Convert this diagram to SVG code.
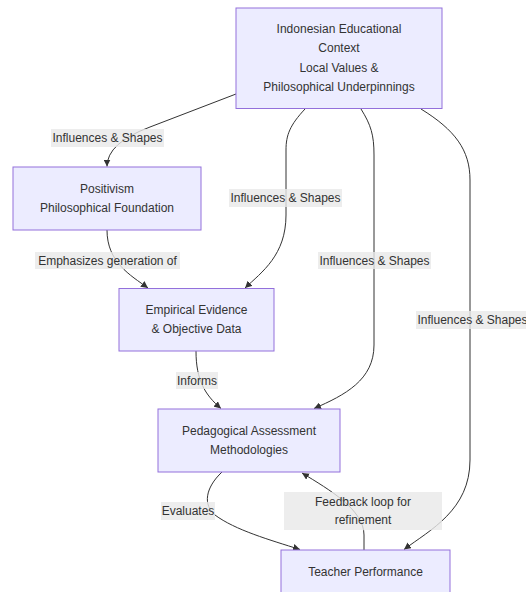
<svg xmlns="http://www.w3.org/2000/svg" width="526" height="592" viewBox="0 0 526 592">
<defs>
<style>
.node rect{fill:#ECECFF;stroke:#9370DB;stroke-width:1}
.node text,.lbl text{font-family:"Liberation Sans",Arial,sans-serif;font-size:12px;fill:#333;text-anchor:middle;dominant-baseline:central}
.edge{fill:none;stroke:#333;stroke-width:1}
.lbl rect{fill:rgba(232,232,232,0.8)}
</style>
<marker id="arr" viewBox="0 0 10 10" refX="10" refY="5" markerWidth="7" markerHeight="7" markerUnits="userSpaceOnUse" orient="auto">
<path d="M0,0 L10,5 L0,10 z" fill="#333"/>
</marker>
</defs>
<g id="connectors">
<path class="edge" marker-end="url(#arr)" d="M236,94 L150,127 Q107,143 107,166.5"/>
<path class="edge" marker-end="url(#arr)" d="M305,109 C290,125 286,135 286,150 L286,215 C286,255 262,272 245,288"/>
<path class="edge" marker-end="url(#arr)" d="M361,109 C371,125 374,135 374,155 L374,345 C374,380 345,395 314,408.5"/>
<path class="edge" marker-end="url(#arr)" d="M421,109 C455,130 470,150 470,180 L470,460 C470,510 430,530 404,549.5"/>
<path class="edge" marker-end="url(#arr)" d="M107,230 C107,262 130,275 148,288"/>
<path class="edge" marker-end="url(#arr)" d="M196,351 C196,380 205,395 221,408.5"/>
<path class="edge" marker-end="url(#arr)" d="M222,472 C205,488 203,505 215,515 C235,530 270,540 300,549.5"/>
<path class="edge" marker-end="url(#arr)" d="M364,550 L364,535 C364,510 330,490 302,473"/>
</g>
<g id="edge-labels">
<g class="lbl"><rect x="51" y="129" width="113" height="18"/><text x="107.5" y="138">Influences &amp; Shapes</text></g>
<g class="lbl"><rect x="229" y="189" width="113" height="18"/><text x="285.5" y="198">Influences &amp; Shapes</text></g>
<g class="lbl"><rect x="35" y="252" width="145" height="17"/><text x="107.5" y="260.5">Emphasizes generation of</text></g>
<g class="lbl"><rect x="318" y="252" width="113" height="17"/><text x="374.5" y="260.5">Influences &amp; Shapes</text></g>
<g class="lbl"><rect x="416" y="311" width="113" height="18"/><text x="472.5" y="320">Influences &amp; Shapes</text></g>
<g class="lbl"><rect x="176" y="372" width="42" height="17"/><text x="197" y="380.5">Informs</text></g>
<g class="lbl"><rect x="161" y="502" width="54" height="18"/><text x="188" y="511">Evaluates</text></g>
<g class="lbl"><rect x="284" y="492" width="158" height="38"/><text x="363" y="501.5">Feedback loop for</text><text x="363" y="520">refinement</text></g>
</g>
<g id="node-context" class="node">
<rect x="236" y="8" width="206" height="100.5"/>
<text x="339" y="29.3">Indonesian Educational</text>
<text x="339" y="48.3">Context</text>
<text x="339" y="67.7">Local Values &amp;</text>
<text x="339" y="86.7">Philosophical Underpinnings</text>
</g>
<g id="node-positivism" class="node">
<rect x="13" y="167" width="188" height="63"/>
<text x="107" y="188.7">Positivism</text>
<text x="107" y="207.7">Philosophical Foundation</text>
</g>
<g id="node-empirical" class="node">
<rect x="119" y="288.5" width="155" height="62.5"/>
<text x="196.5" y="310">Empirical Evidence</text>
<text x="196.5" y="329">&amp; Objective Data</text>
</g>
<g id="node-pedagogical" class="node">
<rect x="158" y="409" width="182" height="63"/>
<text x="249" y="431.3">Pedagogical Assessment</text>
<text x="249" y="450.3">Methodologies</text>
</g>
<g id="node-teacher" class="node">
<rect x="281" y="550" width="169" height="44"/>
<text x="365.5" y="571.5">Teacher Performance</text>
</g>
</svg>
